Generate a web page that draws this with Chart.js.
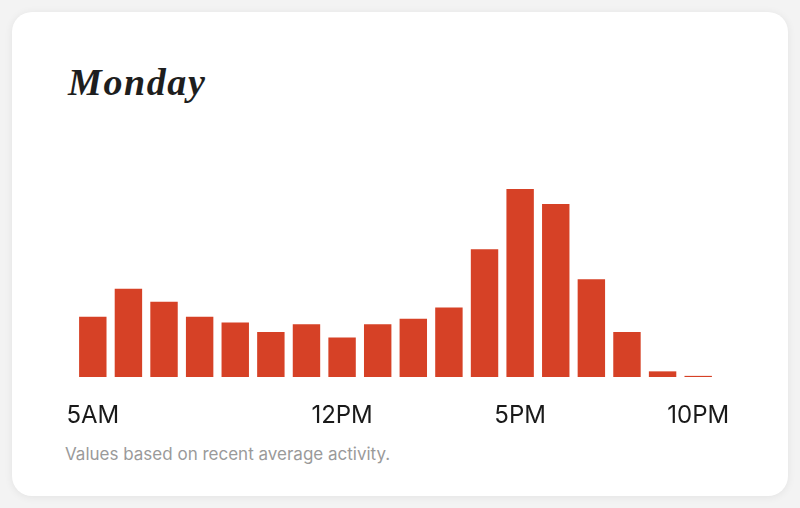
<!DOCTYPE html>
<html>
<head>
<meta charset="utf-8">
<script src="https://cdn.jsdelivr.net/npm/chart.js@4"></script>
<style>
  html, body { margin: 0; padding: 0; }
  body { width: 800px; height: 508px; background: #f3f3f3; position: relative; overflow: hidden; }
  .card {
    position: absolute; left: 12px; top: 12px; width: 776px; height: 484px;
    background: #fff; border-radius: 20px;
    box-shadow: 0 1px 8px rgba(0,0,0,0.07);
  }
  .title {
    position: absolute; left: 68px; top: 60px; margin: 0;
    font-family: "Liberation Serif", serif; font-style: italic; font-weight: bold;
    font-size: 38px; letter-spacing: 1.6px; color: #1e1e1e;
  }
  .note {
    position: absolute; left: 65px; top: 444px; margin: 0;
    font-family: Inter, sans-serif; font-size: 17px; color: #9a9a9a;
  }
  #wrap { position: absolute; left: 0; top: 0; width: 800px; height: 508px; }
</style>
</head>
<body>
<div class="card"></div>
<h1 class="title">Monday</h1>
<p class="note">Values based on recent average activity.</p>
<div id="wrap"><canvas id="busyChart"></canvas></div>
<script>
// -------------------------------
// Data
// -------------------------------
const hours = ['5AM', '6AM', '7AM', '8AM', '9AM', '10AM', '11AM', '12PM', '1PM',
  '2PM', '3PM', '4PM', '5PM', '6PM', '7PM', '8PM', '9PM', '10PM'];
const busyness = [32, 47, 40, 32, 29, 24, 28, 21, 28, 31, 37, 68, 100, 92, 52, 24, 3, 0.6];
const shownTicks = ['5AM', '12PM', '5PM', '10PM'];

// -------------------------------
// Chart
// -------------------------------
const chartCanvas = document.getElementById('busyChart');
new Chart(chartCanvas, {
  type: 'bar',
  data: {
    labels: hours,
    datasets: [{
      data: busyness,
      backgroundColor: '#d64126',
      borderWidth: 0,
      barPercentage: 0.77,
      categoryPercentage: 1
    }]
  },
  options: {
    responsive: true,
    maintainAspectRatio: false,
    animation: false,
    layout: { padding: { left: 75, right: 84, top: 189, bottom: 81 } },
    plugins: { legend: { display: false }, tooltip: { enabled: false } },
    scales: {
      x: {
        grid: { display: false, drawTicks: false },
        border: { display: false },
        ticks: {
          autoSkip: false,
          maxRotation: 0,
          padding: 24,
          color: '#1a1a1a',
          font: { family: 'Inter', size: 24 },
          callback: function (v, i) {
            const l = hours[i];
            return shownTicks.includes(l) ? l : '';
          }
        },
        afterFit: s => { s.height = 50; }
      },
      y: { display: false, min: 0, max: 100 }
    }
  }
});
</script>
</body>
</html>
